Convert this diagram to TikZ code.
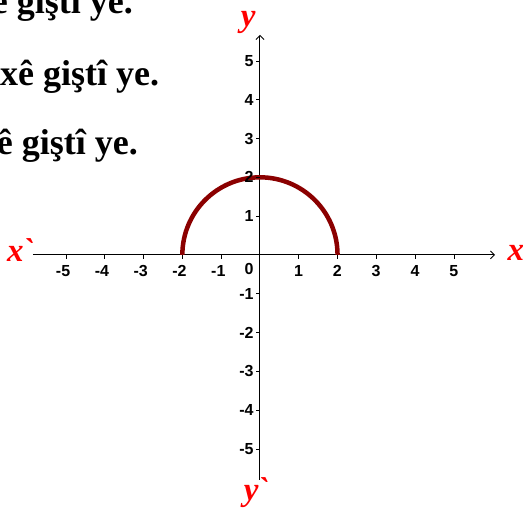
\documentclass[tikz,border=0pt]{standalone}
\usepackage{fontspec}
\setmainfont{Liberation Serif}
\newfontfamily\ticksans{Liberation Sans}
\usetikzlibrary{arrows.meta}
\definecolor{arcred}{HTML}{8B0000}
\definecolor{axisred}{HTML}{FF0000}
\tikzset{>={Straight Barb[length=4pt,width=8pt]},axis/.style={->,line width=0.9pt},tickmark/.style={line width=0.8pt},ticklabel/.style={font=\ticksans\bfseries\fontsize{16}{16}\selectfont,inner sep=0pt},axislabel/.style={text=axisred,font=\bfseries\itshape\fontsize{33}{33}\selectfont,inner sep=0pt},textline/.style={font=\bfseries\fontsize{36}{40}\selectfont,inner sep=0pt},halfcircle/.style={arcred,line width=4.5pt}}

\begin{document}
\begin{tikzpicture}[x=38.8pt,y=38.8pt]
\useasboundingbox (-6.70,-6.57) rectangle (6.78,6.57);
\node[textline,anchor=base east] (line1) at (-3.27,6.21) {ê giştî ye.};
\node[textline,anchor=base west] (line2) at (-6.70,4.36) {xê giştî ye.};
\node[textline,anchor=base east] (line3) at (-3.14,2.60) {ê giştî ye.};
\coordinate (xl) at (-5.85,0);
\coordinate (xr) at (6.06,0);
\coordinate (yb) at (0,-5.80);
\coordinate (yt) at (0,5.67);
\draw[axis] (xl) -- (xr);
\draw[axis] (yb) -- (yt);
\draw[halfcircle] (2,0) arc[start angle=0,end angle=180,radius=2];
\foreach \i in {-5,...,-1,1,2,...,5}{
\draw[tickmark] (\i,0) -- (\i,-0.1);
\draw[tickmark] (0,\i) -- (-0.1,\i);
\node[ticklabel,anchor=east] (xt\i) at (\i+0.115,-0.41) {\i};
\node[ticklabel,anchor=east] (yt\i) at (-0.16,\i) {\i};}
\node[ticklabel,anchor=north east] (zero) at (-0.16,-0.2) {0};
\node[axislabel,anchor=base west] (xlab) at (6.38,-0.15) {x};
\node[axislabel,anchor=base west] (xlab2) at (-6.52,-0.18) {x\kern-1pt\textasciigrave};
\node[axislabel,anchor=base] (ylab) at (-0.3,5.88) {y};
\node[axislabel,anchor=base] (ylab2) at (-0.1,-6.34) {y\kern-1pt\textasciigrave};
\end{tikzpicture}
\end{document}
